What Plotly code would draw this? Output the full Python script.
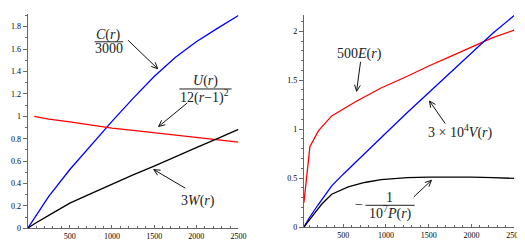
import math
import plotly.graph_objects as go

# ---------------- data ----------------
r_c = [0, 100, 250, 500, 750, 1000, 1250, 1500, 1750, 2000, 2250, 2500]
c_over_3000 = [0, 0.115, 0.285, 0.525, 0.745, 0.955, 1.16, 1.355, 1.525, 1.665, 1.785, 1.90]

r_u = [78, 250, 500, 750, 1000, 1250, 1500, 1750, 2000, 2250, 2500]
u_scaled = [1.0, 0.975, 0.95, 0.92, 0.895, 0.875, 0.855, 0.835, 0.815, 0.795, 0.77]

r_w = [0, 100, 250, 500, 750, 1000, 1250, 1500, 1750, 2000, 2250, 2500]
w_times3 = [0, 0.05, 0.115, 0.225, 0.31, 0.395, 0.477, 0.555, 0.64, 0.72, 0.80, 0.883]

r_e = [40, 110, 211, 365, 654, 943, 1250, 1500, 1750, 2000, 2250, 2500]
e_times500 = [0.25, 0.82, 0.985, 1.135, 1.285, 1.42, 1.54, 1.645, 1.74, 1.84, 1.934, 2.01]

r_v = [40, 100, 200, 365, 500, 750, 1000, 1250, 1500, 1750, 2000, 2250, 2500]
v_scaled = [0, 0.09, 0.22, 0.42, 0.54, 0.755, 0.96, 1.17, 1.37, 1.57, 1.78, 1.98, 2.16]

r_p = [40, 115, 173, 250, 365, 558, 750, 943, 1250, 1500, 1750, 2000, 2250, 2500]
p_scaled = [0, 0.09, 0.15, 0.235, 0.335, 0.41, 0.455, 0.485, 0.505, 0.51, 0.512, 0.51, 0.505, 0.497]

x_ticks = [500, 1000, 1500, 2000, 2500]
y_ticks_left = [0, 0.2, 0.4, 0.6, 0.8, 1, 1.2, 1.4, 1.6, 1.8]
y_ticks_right = [0, 0.5, 1, 1.5, 2]

# ---------------- figure ----------------
W, H = 525, 240
SERIF = "Liberation Serif"
LW = 1.3

fig = go.Figure()
fig.add_trace(go.Scatter(x=r_c, y=c_over_3000, mode="lines", line=dict(color="#0000ff", width=LW), xaxis="x", yaxis="y"))
fig.add_trace(go.Scatter(x=r_u, y=u_scaled, mode="lines", line=dict(color="#ff0000", width=LW), xaxis="x", yaxis="y"))
fig.add_trace(go.Scatter(x=r_w, y=w_times3, mode="lines", line=dict(color="#000000", width=LW), xaxis="x", yaxis="y"))
fig.add_trace(go.Scatter(x=r_e, y=e_times500, mode="lines", line=dict(color="#ff0000", width=LW), xaxis="x2", yaxis="y2"))
fig.add_trace(go.Scatter(x=r_v, y=v_scaled, mode="lines", line=dict(color="#0000ff", width=LW), xaxis="x2", yaxis="y2"))
fig.add_trace(go.Scatter(x=r_p, y=p_scaled, mode="lines", line=dict(color="#000000", width=LW), xaxis="x2", yaxis="y2"))

axis_common = dict(
    showgrid=False, zeroline=False, showline=True, linecolor="#666666", linewidth=1,
    tickcolor="#666666", tickwidth=1,
    tickfont=dict(family=SERIF, size=8, color="#000000"),
)
xminor = dict(ticks="inside", dtick=100, ticklen=2, tickcolor="#666666")

fig.update_layout(
    width=W, height=H, margin=dict(l=0, r=0, t=0, b=0),
    paper_bgcolor="white", plot_bgcolor="white", showlegend=False,
    xaxis=dict(domain=[20 / W, 234 / W], range=[0, 2500], tickvals=x_ticks, ticks="inside", ticklen=3,
               minor=xminor, anchor="y", **axis_common),
    yaxis=dict(domain=[15 / H, 0.973], range=[0, 1.91], tickvals=y_ticks_left, ticks="outside", ticklen=4,
               minor=dict(ticks="outside", dtick=0.1, ticklen=2, tickcolor="#666666"),
               anchor="x", **axis_common),
    xaxis2=dict(domain=[300.5 / W, 514 / W], range=[40, 2500], tickvals=x_ticks, ticks="inside", ticklen=3,
                minor=xminor, anchor="y2", **axis_common),
    yaxis2=dict(domain=[16.3 / H, 0.97], range=[0, 2.165], tickvals=y_ticks_right, ticks="outside", ticklen=4,
                minor=dict(ticks="outside", dtick=0.1, ticklen=2, tickcolor="#666666"),
                anchor="x2", **axis_common),
)

# ---------------- annotations (pixel placement -> paper coords) ----------------
def px(x):
    return x / W

def py(y):
    return 1 - y / H

shapes = []
annos = []

def text(x, y, s, size=14):
    annos.append(dict(x=px(x), y=py(y), xref="paper", yref="paper", text=s, showarrow=False,
                      xanchor="center", yanchor="middle",
                      font=dict(family=SERIF, size=size, color="#222222")))

def hline(x0, x1, y):
    shapes.append(dict(type="line", xref="paper", yref="paper", x0=px(x0), x1=px(x1),
                       y0=py(y), y1=py(y), line=dict(color="#222222", width=1)))

def arrow(xt, yt, xh, yh, head=7, ang=25):
    shapes.append(dict(type="line", xref="paper", yref="paper", x0=px(xt), y0=py(yt),
                       x1=px(xh), y1=py(yh), line=dict(color="#111111", width=1)))
    a = math.atan2(yt - yh, xt - xh)
    for s in (-1, 1):
        b = a + s * math.radians(ang)
        shapes.append(dict(type="line", xref="paper", yref="paper", x0=px(xh), y0=py(yh),
                           x1=px(xh + head * math.cos(b)), y1=py(yh + head * math.sin(b)),
                           line=dict(color="#111111", width=1)))

# C(r)/3000
text(101.5, 27.5, "<i>C</i>(<i>r</i>)")
hline(88, 117, 34.5)
text(102.5, 41, "3000")
arrow(122, 33, 152, 62)

# U(r)/(12(r-1)^2)
text(201, 75, "<i>U</i>(<i>r</i>)")
hline(174, 227, 82.7)
text(200, 90, "12(<i>r</i>\u22121)<sup>2</sup>")
arrow(182, 97, 153, 121)

# 3W(r)
text(192.5, 196.7, "3<i>W</i>(<i>r</i>)")
arrow(180, 184, 148, 165)

# 500E(r)
text(357, 47, "500<i>E</i>(<i>r</i>)")
arrow(358, 55, 354, 85)

# 3x10^4 V(r)
text(460, 126.5, "3 \u00d7 10<sup>4</sup><i>V</i>(<i>r</i>)")
arrow(444, 118, 428, 95)

# -1/(10^7 P(r))
text(356.5, 201, "\u2212")
text(387, 193.5, "1")
hline(363, 413, 201.5)
text(388, 209, "10<sup>7</sup><i>P</i>(<i>r</i>)")
arrow(412, 193, 430, 176)

fig.update_layout(shapes=shapes, annotations=annos)
fig.write_html("out.html")
